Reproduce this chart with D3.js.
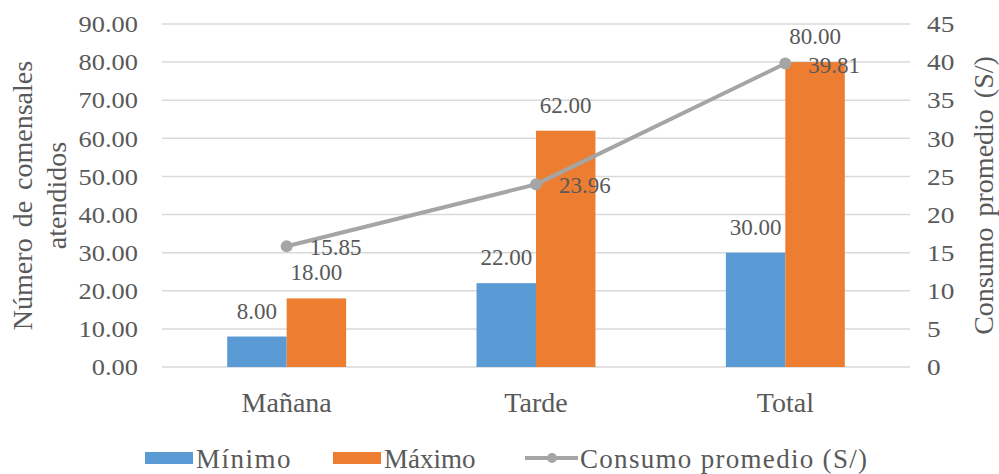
<!DOCTYPE html>
<html>
<head>
<meta charset="utf-8">
<script src="https://cdn.jsdelivr.net/npm/d3@7"></script>
<style>
  body { margin: 0; background: #fff; }
  svg text { font-family: "Liberation Serif", "DejaVu Serif", serif; fill: #595959; }
</style>
</head>
<body>
<div id="canvasRoot"></div>
<script>
// Data
const categories = ["Mañana", "Tarde", "Total"];
const minimo = [8, 22, 30];
const maximo = [18, 62, 80];
const consumo = [15.85, 23.96, 39.81];
const leftTicks = [0, 10, 20, 30, 40, 50, 60, 70, 80, 90];
const rightTicks = [0, 5, 10, 15, 20, 25, 30, 35, 40, 45];
const seriesNames = ["Mínimo", "Máximo", "Consumo promedio (S/)"];

const COLORS = { min: "#5b9bd5", max: "#ed7d31", line: "#a5a5a5", grid: "#d9d9d9" };

const [width, height] = [999, 474];
const plot = { left: 162, right: 910, top: 24, bottom: 367 };

const svg = d3.select("#canvasRoot")
  .append("svg")
  .attr("width", width)
  .attr("height", height);

// Scales
const xScale = d3.scaleBand()
  .domain(categories)
  .range([plot.left, plot.right])
  .paddingInner(0.523)
  .paddingOuter(0.2615);
const subScale = d3.scaleBand()
  .domain(["min", "max"])
  .range([0, xScale.bandwidth()]);
const yLeft = d3.scaleLinear().domain([0, 90]).range([plot.bottom, plot.top]);
const yRight = d3.scaleLinear().domain([0, 45]).range([plot.bottom, plot.top]);

//Gridlines
svg.append("g")
  .selectAll("line")
  .data(leftTicks)
  .enter()
    .append("line")
    .attr("x1", plot.left)
    .attr("x2", plot.right)
    .attr("y1", d => yLeft(d))
    .attr("y2", d => yLeft(d))
    .attr("stroke", COLORS.grid)
    .attr("stroke-width", 1.5);

//Axes
const fmt2 = d3.format(".2f");
const gLeft = svg.append("g")
  .attr("transform", `translate(${plot.left},0)`)
  .call(d3.axisLeft(yLeft).tickValues(leftTicks).tickSize(0).tickFormat(fmt2));
gLeft.select(".domain").remove();
gLeft.selectAll("text")
  .attr("x", 0)
  .attr("transform", "translate(-24,0) scale(1.1,1)")
  .style("font-size", "24px")
  .attr("fill", null);

const gRight = svg.append("g")
  .attr("transform", `translate(${plot.right},0)`)
  .call(d3.axisRight(yRight).tickValues(rightTicks).tickSize(0).tickFormat(d3.format("d")));
gRight.select(".domain").remove();
gRight.selectAll("text")
  .attr("x", 0)
  .attr("transform", "translate(17,0) scale(1.14,1)")
  .style("font-size", "24px")
  .attr("fill", null);

const gBottom = svg.append("g")
  .attr("transform", `translate(0,${plot.bottom})`)
  .call(d3.axisBottom(xScale).tickSize(0).tickPadding(0));
gBottom.select(".domain").remove();
gBottom.selectAll("text")
  .attr("y", 45)
  .attr("dy", 0)
  .style("font-size", "28px")
  .attr("fill", null);

//Axis titles
const midY = (plot.top + plot.bottom) / 2;
svg.append("text")
  .attr("transform", `translate(32,${midY}) rotate(-90)`)
  .attr("text-anchor", "middle")
  .style("font-size", "28px")
  .style("word-spacing", "4px")
  .text("Número de comensales");
svg.append("text")
  .attr("transform", `translate(66,${midY}) rotate(-90)`)
  .attr("text-anchor", "middle")
  .style("font-size", "28px")
  .text("atendidos");
svg.append("text")
  .attr("transform", `translate(993,${midY}) rotate(-90)`)
  .attr("text-anchor", "middle")
  .style("font-size", "28px")
  .style("word-spacing", "4px")
  .text("Consumo promedio (S/)");

//Bars
const barData = categories.flatMap((c, i) => [
  { cat: c, key: "min", value: minimo[i] },
  { cat: c, key: "max", value: maximo[i] }
]);
const barGs = svg.append("g")
  .selectAll("g.bar")
  .data(barData)
  .enter()
    .append("g")
    .classed("bar", true);
barGs.append("rect")
  .attr("x", d => xScale(d.cat) + subScale(d.key))
  .attr("y", d => yLeft(d.value))
  .attr("width", subScale.bandwidth())
  .attr("height", d => yLeft(0) - yLeft(d.value))
  .attr("fill", d => d.key === "min" ? COLORS.min : COLORS.max);
barGs.append("text")
  .attr("x", d => xScale(d.cat) + subScale(d.key) + subScale.bandwidth() / 2)
  .attr("y", d => yLeft(d.value) - 18)
  .attr("text-anchor", "middle")
  .style("font-size", "23px")
  .text(d => fmt2(d.value));

//Line series
const cx = c => xScale(c) + xScale.bandwidth() / 2;
const lineData = categories.map((c, i) => ({ cat: c, value: consumo[i] }));
svg.append("path")
  .datum(lineData)
  .attr("fill", "none")
  .attr("stroke", COLORS.line)
  .attr("stroke-width", 4)
  .attr("stroke-linejoin", "round")
  .attr("d", d3.line().x(d => cx(d.cat)).y(d => yRight(d.value)));
svg.append("g")
  .selectAll("circle")
  .data(lineData)
  .enter()
    .append("circle")
    .attr("cx", d => cx(d.cat))
    .attr("cy", d => yRight(d.value))
    .attr("r", 6)
    .attr("fill", COLORS.line);
svg.append("g")
  .selectAll("text")
  .data(lineData)
  .enter()
    .append("text")
    .attr("x", d => cx(d.cat) + 23)
    .attr("y", d => yRight(d.value) + 9)
    .style("font-size", "23px")
    .text(d => fmt2(d.value));

//Legend
const legendY = 458;
const legend = svg.append("g");
const legendX = [145, 333, 525];
[COLORS.min, COLORS.max].forEach((col, i) => {
  legend.append("rect")
    .attr("x", legendX[i])
    .attr("y", legendY - 6)
    .attr("width", 48)
    .attr("height", 12)
    .attr("fill", col);
  legend.append("text")
    .attr("x", legendX[i] + 51)
    .attr("y", legendY + 10)
    .style("font-size", "27px")
    .style("letter-spacing", i === 0 ? "1.5px" : "0px")
    .text(seriesNames[i]);
});
legend.append("line")
  .attr("x1", legendX[2])
  .attr("x2", legendX[2] + 53)
  .attr("y1", legendY)
  .attr("y2", legendY)
  .attr("stroke", COLORS.line)
  .attr("stroke-width", 4);
legend.append("circle")
  .attr("cx", legendX[2] + 27)
  .attr("cy", legendY)
  .attr("r", 5)
  .attr("fill", COLORS.line);
legend.append("text")
  .attr("x", legendX[2] + 55)
  .attr("y", legendY + 10)
  .style("font-size", "27px")
  .style("letter-spacing", "1.3px")
  .text(seriesNames[2]);
</script>
</body>
</html>
